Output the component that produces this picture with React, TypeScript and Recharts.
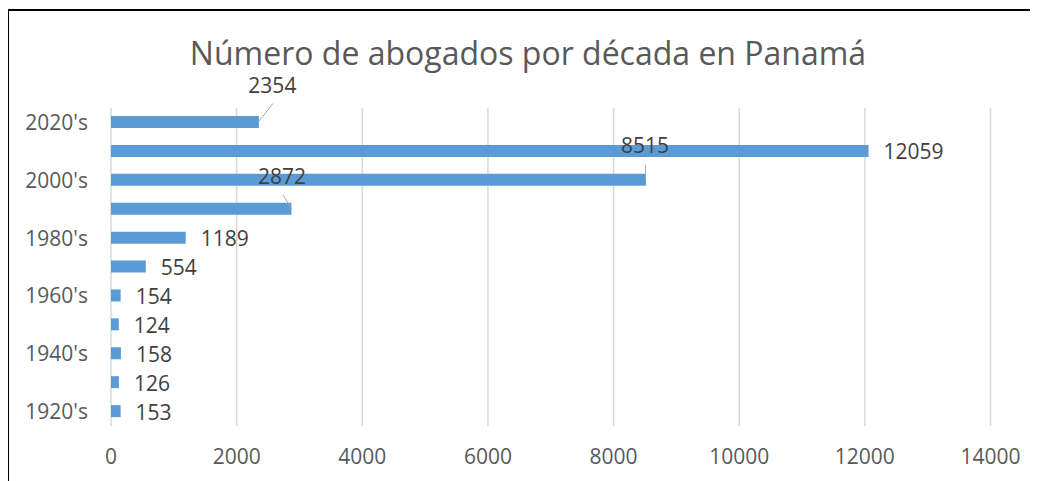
import { Bar, BarChart, CartesianGrid, LabelList, XAxis, YAxis } from 'recharts';

const decades = [
  "2020's",
  "2010's",
  "2000's",
  "1990's",
  "1980's",
  "1970's",
  "1960's",
  "1950's",
  "1940's",
  "1930's",
  "1920's",
];
const lawyers = [2354, 12059, 8515, 2872, 1189, 554, 154, 124, 158, 126, 153];
const xTicks = [0, 2000, 4000, 6000, 8000, 10000, 12000, 14000];

const data = decades.map((name, i) => ({ name, total: lawyers[i] }));

const FONT = '"Open Sans", sans-serif';
const AXIS_COLOR = '#595959';
const LABEL_COLOR = '#404040';

// labels that Excel moved off the bar end, with a leader line
const MOVED: Record<string, { dx: number; dy: number; lx: number; ly: number; sx: number }> = {
  "2020's": { dx: 13.5, dy: -36.5, lx: 14, ly: -18.5, sx: -0.5 },
  "2000's": { dx: -1, dy: -34, lx: -0.5, ly: -15, sx: -0.5 },
  "1990's": { dx: -9.5, dy: -32, lx: -8.5, ly: -14, sx: 0 },
};

const DataLabel = (props: any) => {
  const { x, y, width, height, value, index } = props;
  const ex = Number(x) + Number(width);
  const cy = Number(y) + Number(height) / 2;
  const moved = MOVED[decades[index]];
  if (moved) {
    return (
      <g>
        <line
          stroke="#a6a6a6"
          strokeWidth={1}
          x1={ex + moved.sx}
          x2={ex + moved.lx}
          y1={cy}
          y2={cy + moved.ly}
        />
        <text
          dy="0.355em"
          fill={LABEL_COLOR}
          fontFamily={FONT}
          fontSize={21}
          textAnchor="middle"
          x={ex + moved.dx}
          y={cy + moved.dy}
        >
          {value}
        </text>
      </g>
    );
  }
  return (
    <text
      dy="0.355em"
      fill={LABEL_COLOR}
      fontFamily={FONT}
      fontSize={21}
      textAnchor="start"
      x={ex + 15}
      y={cy + 1}
    >
      {value}
    </text>
  );
};

export default function App() {
  return (
    <div style={{ position: 'relative', width: 1030, height: 473 }}>
      <div
        style={{
          position: 'absolute',
          left: -1,
          top: 1,
          width: 1040,
          height: 480,
          borderTop: '2px solid #000',
          borderLeft: '2px solid #000',
          boxSizing: 'border-box',
        }}
      />
      <div
        style={{
          position: 'absolute',
          left: 0,
          top: 28.5,
          width: 1040,
          textAlign: 'center',
          fontFamily: FONT,
          fontSize: 32,
          lineHeight: '32px',
          color: AXIS_COLOR,
        }}
      >
        Número de abogados por década en Panamá
      </div>
      <div style={{ position: 'absolute', left: 0, top: 0 }}>
        <BarChart
          data={data}
          height={473}
          layout="vertical"
          margin={{ top: 100, right: 47.5, bottom: 15, left: 0 }}
          width={1030}
        >
          <CartesianGrid horizontal={false} stroke="#d9d9d9" strokeWidth={1.5} />
          <XAxis
            axisLine={false}
            domain={[0, 14000]}
            height={40}
            tick={{ fill: AXIS_COLOR, fontSize: 21, fontFamily: FONT }}
            tickLine={false}
            tickMargin={17.5}
            ticks={xTicks}
            type="number"
          />
          <YAxis
            axisLine={false}
            dataKey="name"
            interval={1}
            tick={{ fill: AXIS_COLOR, fontSize: 21, fontFamily: FONT }}
            tickLine={false}
            tickMargin={17}
            type="category"
            width={103}
          />
          <Bar barSize={12} dataKey="total" fill="#5b9bd5" isAnimationActive={false}>
            <LabelList content={<DataLabel />} dataKey="total" />
          </Bar>
        </BarChart>
      </div>
    </div>
  );
}
